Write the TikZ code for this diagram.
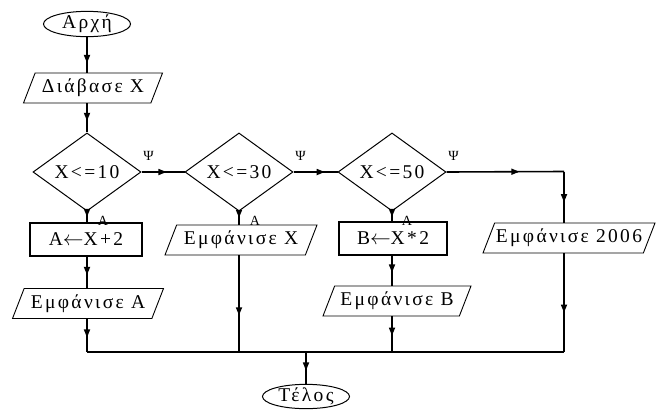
\documentclass[tikz,border=0pt]{standalone}
\usepackage{fontspec}
\setmainfont[LetterSpace=12]{Liberation Serif}
\usetikzlibrary{shapes.geometric,arrows.meta,decorations.markings}
\begin{document}
\begin{tikzpicture}[x=1pt,y=-1pt,
  every node/.style={font=\fontsize{19.5}{21}\selectfont, inner sep=0pt},
  term/.style={draw, ellipse, line width=1pt, minimum width=87pt, minimum height=24pt},
  io/.style={draw, trapezium, trapezium left angle=57, trapezium right angle=123, trapezium stretches body, line width=0.9pt, minimum height=30pt},
  proc/.style={draw, rectangle, line width=1.6pt, minimum height=33pt},
  cond/.style={draw, diamond, line width=1pt, minimum width=108pt, minimum height=60pt},
  lbl/.style={font=\fontsize{14}{16}\selectfont},
  conn/.style={line width=1.6pt},
  midarr/.style={conn, postaction={decorate}, decoration={markings, mark=at position #1 with {\arrow{Triangle[length=8pt,width=6pt]}}}},
]
\useasboundingbox (0,0) rectangle (656,410);
\node[term] (start) at (87,24) {Αρχή};
\node[io, minimum width=139pt] (read) at (93,88) {Διάβασε X};
\node[cond] (d1) at (87,172) {X<=10};
\node[cond] (d2) at (239,172) {X<=30};
\node[cond] (d3) at (392,172) {X<=50};
\node[proc, minimum width=112pt] (pa) at (86,239.5) {A$\leftarrow$X+2};
\node[io, minimum width=152pt] (ox) at (241,240) {Εμφάνισε X};
\node[proc, minimum width=108pt] (pb) at (393,238.5) {B$\leftarrow$X*2};
\node[io, minimum width=172pt] (o2006) at (569,238) {Εμφάνισε 2006};
\node[io, minimum width=151pt] (oa) at (88,303.5) {Εμφάνισε A};
\node[io, minimum width=148pt] (ob) at (397,301) {Εμφάνισε B};
\node[term] (end) at (306,396.5) {Τέλος};
\coordinate (jA) at (87,352);
\coordinate (jX) at (239,352);
\coordinate (jM) at (306,352);
\coordinate (jB) at (392,352);
\coordinate (jR) at (564,352);
\coordinate (c3) at (564,171.5);

\draw[midarr=0.73] (start.south) -- (start.south |- read.north);
\draw[midarr=0.6] (read.south -| d1.north) -- (d1.north);
\draw[midarr=0.5] (d1.south) -- (d1.south |- pa.north);
\draw[midarr=0.58] (d1.south |- pa.south) -- (d1.south |- oa.north);
\draw[midarr=0.56] (d1.south |- oa.south) -- (jA);
\draw[midarr=0.58] (d1.east) -- (d2.west);
\draw[midarr=0.71] (d2.east) -- (d3.west);
\draw[midarr=0.48] (d2.south) -- (d2.south |- ox.north);
\draw[midarr=0.62] (d2.south |- ox.south) -- (jX);
\draw[midarr=0.55] (d3.south) -- (d3.south |- pb.north);
\draw[midarr=0.56] (d3.south |- pb.south) -- (d3.south |- ob.north);
\draw[midarr=0.54] (d3.south |- ob.south) -- (jB);
\draw[midarr=0.62] (d3.east) -- (c3);
\draw[midarr=0.6] (c3) -- (c3 |- o2006.north);
\draw[midarr=0.6] (c3 |- o2006.south) -- (jR);
\draw[conn] (jA) -- (jR);
\draw[midarr=0.58] (jM) -- (end.north);

\node[lbl] (psi1) at ([xshift=7pt,yshift=16pt]d1.east) {Ψ};
\node[lbl] (psi2) at ([xshift=7pt,yshift=16pt]d2.east) {Ψ};
\node[lbl] (psi3) at ([xshift=7pt,yshift=16pt]d3.east) {Ψ};
\node[lbl] (a1) at ([xshift=16pt,yshift=-9pt]d1.south) {A};
\node[lbl] (a2) at ([xshift=16pt,yshift=-9pt]d2.south) {A};
\node[lbl] (a3) at ([xshift=15pt,yshift=-9pt]d3.south) {A};
\end{tikzpicture}
\end{document}
